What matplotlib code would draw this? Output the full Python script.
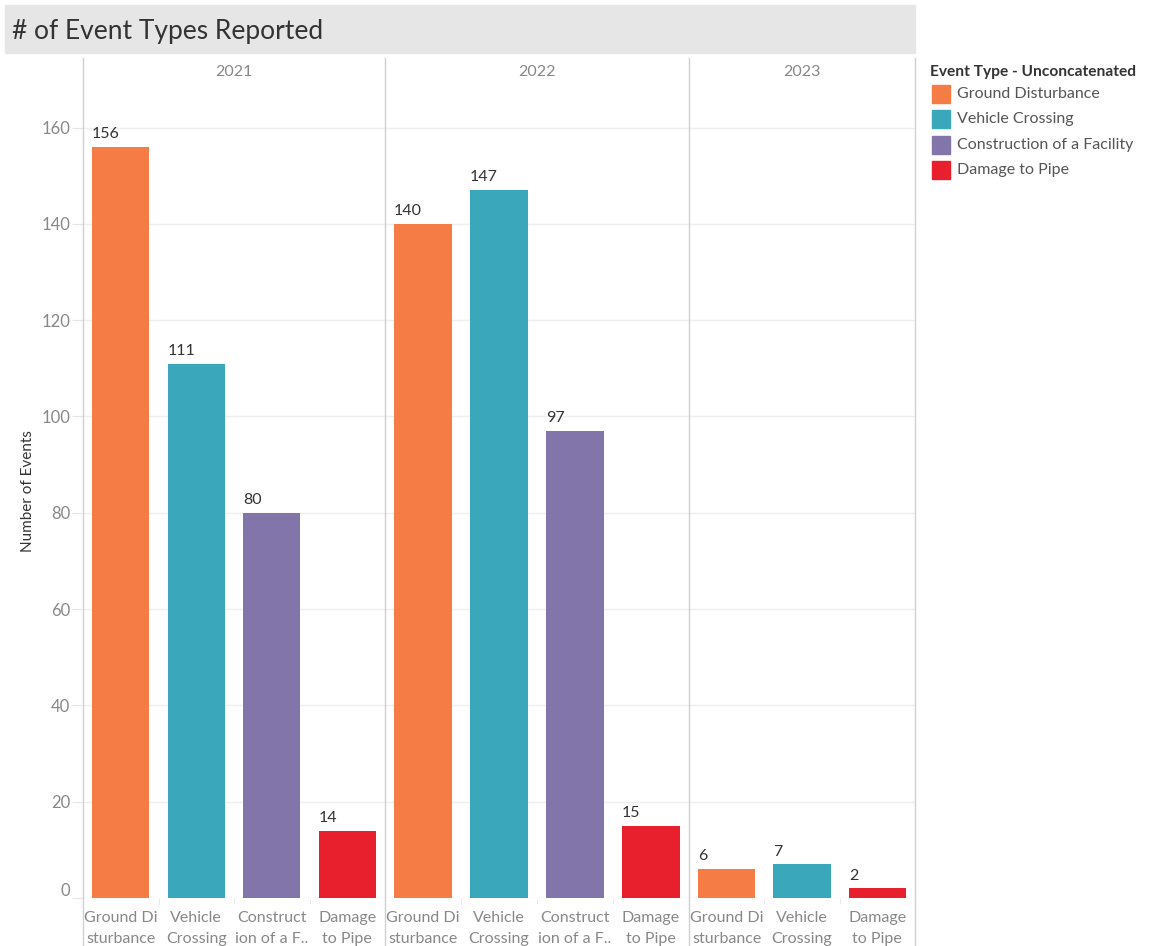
import matplotlib.pyplot as plt
from matplotlib.patches import Rectangle
from matplotlib.lines import Line2D
from matplotlib.transforms import ScaledTranslation

# data
years = ["2021", "2022", "2023"]
categories = ["Ground Disturbance", "Vehicle Crossing",
              "Construction of a Facility", "Damage to Pipe"]
short_labels = ["Ground Di\nsturbance", "Vehicle\nCrossing",
                "Construct\nion of a F..", "Damage\nto Pipe"]
counts_2021 = [156, 111, 80, 14]
counts_2022 = [140, 147, 97, 15]
counts_2023 = [6, 7, 2]
cats_2023 = ["Ground Disturbance", "Vehicle Crossing", "Damage to Pipe"]

colors = {"Ground Disturbance": "#F57C45",
          "Vehicle Crossing": "#3AA7BB",
          "Construction of a Facility": "#8175A9",
          "Damage to Pipe": "#E8202E"}

plt.rcParams['font.family'] = ['Lato', 'DejaVu Sans']

W, H = 1149, 946
fig = plt.figure(figsize=(W / 100, H / 100), dpi=100)

def fx(px):
    return px / W

def fy(py):
    return 1 - py / H

# title bar
fig.patches.append(Rectangle((fx(5), fy(53)), fx(910), 48 / H,
                             transform=fig.transFigure, color="#E6E6E6", zorder=0))
fig.text(fx(12), fy(32), "# of Event Types Reported", fontsize=19,
         color="#333333", va="center", ha="left")

panels = [(83, 385, years[0], categories, counts_2021),
          (385, 689, years[1], categories, counts_2022),
          (689, 915, years[2], cats_2023, counts_2023)]

y_top, y_bot = 85, 898
ymax = (y_bot - y_top) / 4.815
grid_c = "#EFEFEF"
lab_c = "#888888"

for i, (x0, x1, yr, cats, vals) in enumerate(panels):
    ax = fig.add_axes([fx(x0), fy(y_bot), fx(x1 - x0), (y_bot - y_top) / H])
    n = len(cats)
    pos = list(range(n))
    ax.bar(pos, vals, width=0.76, color=[colors[c] for c in cats], zorder=2)
    for p, v in zip(pos, vals):
        ax.text(p - 0.38, v + 1.2, str(v), ha="left", va="bottom",
                fontsize=11.5, color="#333333")
    ax.set_xlim(-0.5, n - 0.5)
    ax.set_ylim(0, ymax)
    ax.set_yticks(range(0, 161, 20))
    ax.yaxis.grid(True, color=grid_c, linewidth=1, zorder=0)
    ax.set_xticks(pos)
    ax.set_xticks([p + 0.5 for p in pos[:-1]], minor=True)
    ax.tick_params(axis="x", which="major", length=0, pad=9)
    ax.tick_params(axis="x", which="minor", length=4, color="#E6E6E6")
    ax.set_xticklabels([short_labels[categories.index(c)] for c in cats])
    for t in ax.get_xticklabels():
        t.set_fontsize(11.5)
        t.set_color(lab_c)
        t.set_linespacing(1.65)
    for s in ["top", "right", "left", "bottom"]:
        ax.spines[s].set_visible(False)
    if i == 0:
        ax.tick_params(axis="y", length=8, color="#E6E6E6", labelsize=12,
                       labelcolor=lab_c, pad=1)
        lbl = ax.get_yticklabels()[0]
        lbl.set_transform(lbl.get_transform() +
                          ScaledTranslation(0, 0.09, fig.dpi_scale_trans))
        ax.set_ylabel("Number of Events", fontsize=11, color="#333333",
                      labelpad=5)
    else:
        ax.tick_params(axis="y", length=0, labelleft=False)
    fig.text(fx((x0 + x1) / 2), fy(72), yr, ha="center", va="center",
             fontsize=11.5, color=lab_c)

# panel dividers
for xp in [83, 385, 689, 915]:
    fig.lines.append(Line2D([fx(xp), fx(xp)], [fy(58), fy(946)],
                            transform=fig.transFigure, color="#D0D0D0", linewidth=1))

# legend
fig.text(fx(930), fy(72), "Event Type - Unconcatenated", fontsize=11.2,
         fontweight="bold", color="#333333", va="center", ha="left")
for k, c in enumerate(categories):
    yc = 94 + 25.3 * k
    fig.patches.append(Rectangle((fx(932), fy(yc + 9)), fx(18), 18 / H,
                                 transform=fig.transFigure, color=colors[c]))
    fig.text(fx(957), fy(yc), c, fontsize=11.5, color="#555555",
             va="center", ha="left")

fig.savefig("out.png", dpi=100)
